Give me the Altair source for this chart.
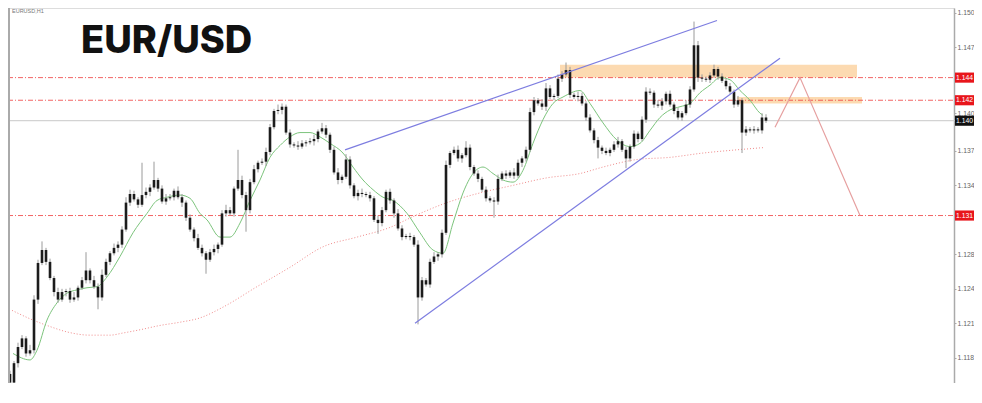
import altair as alt
import pandas as pd

# ---------------- data ----------------
FIRST_OPEN = 1.1168
CLOSE = [
    1.1160, 1.1178, 1.1193, 1.1201, 1.1187, 1.1190, 1.1237, 1.1271, 1.1283, 1.1272,
    1.1257, 1.1244, 1.1237, 1.1244, 1.1245, 1.1237, 1.1239, 1.1248, 1.1255, 1.1264,
    1.1255, 1.1249, 1.1239, 1.1260, 1.1272, 1.1280, 1.1285, 1.1288, 1.1302, 1.1327,
    1.1335, 1.1330, 1.1325, 1.1334, 1.1337, 1.1341, 1.1348, 1.1340, 1.1328, 1.1331,
    1.1332, 1.1338, 1.1332, 1.1327, 1.1313, 1.1302, 1.1294, 1.1285, 1.1280, 1.1274,
    1.1281, 1.1284, 1.1288, 1.1317, 1.1320, 1.1317, 1.1340, 1.1348, 1.1334, 1.1320,
    1.1346, 1.1358, 1.1364, 1.1365, 1.1374, 1.1397, 1.1412, 1.1413, 1.1416, 1.1392,
    1.1381, 1.1380, 1.1379, 1.1382, 1.1383, 1.1384, 1.1386, 1.1393, 1.1396, 1.1390,
    1.1376, 1.1355, 1.1348, 1.1351, 1.1367, 1.1343, 1.1333, 1.1336, 1.1335, 1.1334,
    1.1331, 1.1311, 1.1308, 1.1320, 1.1337, 1.1329, 1.1317, 1.1303, 1.1295, 1.1296,
    1.1295, 1.1288, 1.1239, 1.1255, 1.1251, 1.1272, 1.1277, 1.1279, 1.1299, 1.1362,
    1.1373, 1.1376, 1.1368, 1.1371, 1.1378, 1.1360, 1.1354, 1.1349, 1.1339, 1.1331,
    1.1329, 1.1328, 1.1349, 1.1354, 1.1352, 1.1355, 1.1352, 1.1364, 1.1368, 1.1376,
    1.1411, 1.1422, 1.1419, 1.1416, 1.1433, 1.1425, 1.1426, 1.1442, 1.1446, 1.1450,
    1.1427, 1.1425, 1.1426, 1.1419, 1.1406, 1.1394, 1.1385, 1.1378, 1.1375, 1.1373,
    1.1376, 1.1381, 1.1384, 1.1376, 1.1368, 1.1379, 1.1391, 1.1386, 1.1404, 1.1430,
    1.1429, 1.1418, 1.1417, 1.1421, 1.1428, 1.1418, 1.1412, 1.1406, 1.1410, 1.1418,
    1.1432, 1.1473, 1.1443, 1.1442, 1.1441, 1.1445, 1.1451, 1.1444, 1.1440, 1.1435,
    1.1430, 1.1418, 1.1422, 1.1392, 1.1395, 1.1394, 1.1395, 1.1394, 1.1406, 1.1403,
]
# wick lengths above / below the body, in pips
WICK_UP = [
    3, 2, 4, 3, 2, 5, 4, 3, 8, 2,   3, 2, 4, 3, 2, 3, 5, 2, 3, 17,
    2, 4, 3, 5, 3, 2, 4, 3, 3, 5,   4, 3, 2, 30, 4, 3, 17, 2, 3, 4,
    3, 2, 4, 3, 2, 3, 2, 4, 3, 2,   3, 4, 2, 3, 5, 3, 2, 28, 4, 3,
    3, 4, 2, 3, 4, 3, 2, 5, 3, 2,   3, 2, 4, 3, 2, 3, 4, 2, 5, 3,
    2, 3, 4, 2, 5, 3, 2, 3, 4, 2,   3, 2, 4, 3, 2, 3, 2, 4, 3, 2,
    3, 2, 4, 3, 2, 3, 4, 2, 3, 4,   2, 3, 4, 2, 6, 3, 2, 3, 2, 3,
    2, 3, 4, 2, 3, 2, 4, 3, 2, 3,   4, 3, 2, 4, 5, 3, 2, 4, 3, 7,
    3, 2, 4, 3, 2, 3, 2, 3, 2, 3,   2, 3, 4, 2, 3, 2, 3, 2, 3, 4,
    3, 2, 4, 3, 2, 3, 2, 3, 2, 4,   3, 22, 4, 3, 2, 3, 4, 2, 3, 2,
    3, 2, 4, 2, 3, 2, 3, 2, 4, 3,
]
WICK_DN = [
    8, 3, 4, 2, 3, 2, 3, 4, 2, 3,   2, 4, 3, 2, 4, 3, 2, 3, 2, 3,
    3, 2, 11, 3, 2, 3, 2, 4, 3, 2,  3, 2, 3, 2, 3, 4, 2, 3, 2, 3,
    2, 3, 2, 4, 3, 2, 3, 2, 3, 13,  2, 3, 4, 2, 3, 2, 3, 2, 3, 20,
    3, 2, 3, 2, 4, 3, 2, 3, 4, 2,   3, 2, 3, 2, 3, 2, 4, 3, 2, 3,
    3, 2, 4, 3, 2, 3, 2, 4, 3, 2,   3, 2, 10, 3, 2, 3, 4, 2, 3, 2,
    3, 2, 25, 3, 2, 3, 2, 4, 3, 2,  3, 2, 3, 4, 2, 3, 2, 3, 2, 3,
    2, 15, 3, 2, 3, 2, 3, 2, 4, 3,  2, 3, 2, 3, 4, 2, 3, 2, 3, 2,
    3, 2, 4, 2, 3, 2, 3, 10, 3, 2,  3, 2, 3, 2, 9, 3, 2, 3, 2, 3,
    2, 3, 2, 4, 3, 2, 3, 2, 3, 2,   3, 2, 4, 3, 2, 3, 2, 3, 2, 3,
    2, 3, 2, 19, 3, 2, 3, 2, 3, 2,
]

# slow moving average (red dotted), bar index / price
RED_MA_K = [0.5, 5.75, 10, 14.25, 20, 25, 28.25, 32.5, 37.5, 42.5, 47.5, 53.25, 61.75, 70,
            78.25, 86.75, 95, 100.75, 109.25, 117.5, 125.75, 134.25, 142.5, 148.25, 156.75,
            165, 173.25, 181.75, 188.25]
RED_MA_P = [1.1227, 1.1218, 1.1212, 1.1207, 1.1204, 1.1204, 1.1206, 1.1209, 1.1213, 1.1216,
            1.1220, 1.1230, 1.1249, 1.1267, 1.1286, 1.1295, 1.1304, 1.1314, 1.1327, 1.1336,
            1.1343, 1.1350, 1.1354, 1.1360, 1.1367, 1.1369, 1.1373, 1.1376, 1.1378]

# fast moving average (green)
GREEN_MA_K = [0.75, 5, 6.75, 9.25, 11.75, 14.25, 16.75, 19.25, 21.75, 24.25, 27.5, 30.75,
              34.25, 36.75, 39.25, 42.5, 45, 47.5, 49.25, 52.5, 55, 57.5, 60, 62.5, 65, 67.5,
              70, 72.5, 75, 77.5, 80, 83.25, 85.75, 88.25, 90.75, 93.25, 95.75, 99.25, 102.5,
              105.75, 108.25, 110.75, 113.25, 115.75, 118.25, 120.75, 123.25, 125.75, 128.25,
              130.75, 133.25, 135.75, 138.25, 142.5, 145, 148.25, 151.75, 155, 157.5, 160,
              162.5, 165, 167.5, 170, 172.5, 175, 177.5, 180, 182.5, 185, 187.5, 188.25]
GREEN_MA_P = [1.1187, 1.1181, 1.1190, 1.1218, 1.1234, 1.1243, 1.1246, 1.1248, 1.1249, 1.1258,
              1.1277, 1.1299, 1.1317, 1.1329, 1.1332, 1.1334, 1.1331, 1.1317, 1.1311, 1.1295,
              1.1295, 1.1308, 1.1329, 1.1348, 1.1369, 1.1380, 1.1388, 1.1392, 1.1392, 1.1388,
              1.1382, 1.1373, 1.1360, 1.1348, 1.1339, 1.1332, 1.1329, 1.1317, 1.1299, 1.1283,
              1.1280, 1.1308, 1.1336, 1.1354, 1.1360, 1.1354, 1.1348, 1.1346, 1.1357, 1.1382,
              1.1404, 1.1419, 1.1425, 1.1431, 1.1419, 1.1401, 1.1385, 1.1379, 1.1382, 1.1394,
              1.1406, 1.1413, 1.1416, 1.1419, 1.1429, 1.1436, 1.1443, 1.1441, 1.1431, 1.1422,
              1.1410, 1.1408]

# drawn objects
TREND_K1 = [83.75, 101.25]
TREND_P1 = [1.1376, 1.1215]
TREND_K2 = [176.75, 192.5]
TREND_P2 = [1.1496, 1.1461]

PROJ_K = [191.25, 197.5, 212.5]
PROJ_P = [1.1397, 1.1443, 1.1315]

ZONE_K0 = [137.5, 181.75]
ZONE_K1 = [211.75, 213.0]
ZONE_TOP = [1.1455, 1.1425]
ZONE_BOT = [1.1443, 1.1419]

LEVELS = [1.1443, 1.1422, 1.1315]
LEVEL_LABELS = ["1.144", "1.142", "1.131"]
CURRENT = 1.1403
CURRENT_LABEL = "1.140"

# visible price-scale labels (those under the coloured boxes are not shown)
TICK_VALUES = [1.1503, 1.1471, 1.1410, 1.1375, 1.1343, 1.1279, 1.1247, 1.1215, 1.1183, 1.1151]
TICK_LABELS = ["1.150", "1.147", "1.140", "1.137", "1.134", "1.128", "1.124", "1.121",
               "1.118", "1.115"]

TITLE = "EUR/USD"
SYMBOL = "EURUSD,H1"

# ---------------- tables ----------------
opens = [FIRST_OPEN] + CLOSE[:-1]
candles = pd.DataFrame({
    "k": list(range(len(CLOSE))),
    "open": opens,
    "close": CLOSE,
    "high": [max(o, c) + u / 10000 for o, c, u in zip(opens, CLOSE, WICK_UP)],
    "low": [min(o, c) - d / 10000 for o, c, d in zip(opens, CLOSE, WICK_DN)],
})
red_ma = pd.DataFrame({"k": RED_MA_K, "p": RED_MA_P})
green_ma = pd.DataFrame({"k": GREEN_MA_K, "p": GREEN_MA_P})
trends = pd.DataFrame({"k1": TREND_K1, "p1": TREND_P1, "k2": TREND_K2, "p2": TREND_P2})
proj = pd.DataFrame({"k": PROJ_K, "p": PROJ_P})
zones = pd.DataFrame({"k0": ZONE_K0, "k1": ZONE_K1, "top": ZONE_TOP, "bot": ZONE_BOT})
levels = pd.DataFrame({"p": LEVELS, "lab": LEVEL_LABELS})
current = pd.DataFrame({"p": [CURRENT], "lab": [CURRENT_LABEL]})

W, H = 946, 375
XDOM = [-0.5, 236.0]
YDOM = [1.11596, 1.15076]

xs = alt.Scale(domain=XDOM, nice=False, zero=False)
ys = alt.Scale(domain=YDOM, nice=False, zero=False)

label_expr = ("[" + ",".join("'%s'" % t for t in TICK_LABELS) + "][indexof(["
              + ",".join(repr(v) for v in TICK_VALUES) + "], datum.value)]")
yaxis = alt.Axis(orient="right", values=TICK_VALUES, labelExpr=label_expr, title=None,
                 grid=False, tickSize=2, tickColor="#aaaaaa", domainColor="#aaaaaa",
                 domainWidth=1.5, labelFontSize=6.8, labelColor="#666666",
                 labelFont="Liberation Sans", labelPadding=1, labelBaseline="middle")


def X(f):
    return alt.X(f, type="quantitative", scale=xs, axis=None)


def Y(f):
    return alt.Y(f, type="quantitative", scale=ys, axis=yaxis)


zone_layer = alt.Chart(zones).mark_rect(color="#fcd6a8", opacity=0.9).encode(
    x=X("k0"), x2=alt.X2("k1"), y=Y("top"), y2=alt.Y2("bot"))

level_layer = alt.Chart(levels).mark_rule(color="#f04848", strokeWidth=1,
                                          strokeDash=[5, 2, 1, 2], opacity=0.85).encode(
    y=Y("p"), x=alt.value(0), x2=alt.value(W + 1))

current_layer = alt.Chart(current).mark_rule(color="#c8c8c8", strokeWidth=1).encode(
    y=Y("p"), x=alt.value(0), x2=alt.value(W + 1))

red_ma_layer = alt.Chart(red_ma).mark_line(color="#f08a8a", strokeWidth=1,
                                           strokeDash=[1, 2], interpolate="monotone").encode(
    x=X("k"), y=Y("p"))

green_ma_layer = alt.Chart(green_ma).mark_line(color="#7cc47c", strokeWidth=1,
                                               interpolate="monotone").encode(
    x=X("k"), y=Y("p"))

wick_layer = alt.Chart(candles).mark_rule(color="#9a9a9a", strokeWidth=1).encode(
    x=X("k"), y=Y("low"), y2=alt.Y2("high"))

body_layer = alt.Chart(candles).mark_rule(color="#1c1c1c", strokeWidth=2.6).encode(
    x=X("k"), y=Y("open"), y2=alt.Y2("close"))

trend_layer = alt.Chart(trends).mark_rule(color="#7d7de0", strokeWidth=1.2).encode(
    x=X("k1"), y=Y("p1"), x2=alt.X2("k2"), y2=alt.Y2("p2"))

proj_layer = alt.Chart(proj).mark_line(color="#e6a0a0", strokeWidth=1.2).encode(
    x=X("k"), y=Y("p"))

box_levels = alt.Chart(levels).transform_calculate(
    y0="datum.p - 0.00047", y1="datum.p + 0.00047"
).mark_rect(color="#e8151b").encode(
    y=Y("y0"), y2=alt.Y2("y1"), x=alt.value(W + 1), x2=alt.value(W + 20))

box_levels_txt = alt.Chart(levels).mark_text(color="white", fontSize=6.8, align="left",
                                             baseline="middle", font="Liberation Sans").encode(
    y=Y("p"), x=alt.value(W + 2), text="lab:N")

box_cur = alt.Chart(current).transform_calculate(
    y0="datum.p - 0.00047", y1="datum.p + 0.00047"
).mark_rect(color="#111111").encode(
    y=Y("y0"), y2=alt.Y2("y1"), x=alt.value(W + 1), x2=alt.value(W + 20))

box_cur_txt = alt.Chart(current).mark_text(color="white", fontSize=6.8, align="left",
                                           baseline="middle", font="Liberation Sans").encode(
    y=Y("p"), x=alt.value(W + 2), text="lab:N")

title_layer = alt.Chart(pd.DataFrame({"t": [TITLE]})).mark_text(
    align="left", baseline="alphabetic", font="Inter", fontWeight=800, fontSize=38,
    color="#111111").encode(x=alt.value(73), y=alt.value(45), text="t:N")

symbol_layer = alt.Chart(pd.DataFrame({"t": [SYMBOL]})).mark_text(
    align="left", baseline="top", font="Liberation Sans", fontSize=5.5,
    color="#777777").encode(x=alt.value(4), y=alt.value(1), text="t:N")

left_border = alt.Chart(pd.DataFrame({"t": [0]})).mark_rule(color="#aaaaaa", strokeWidth=2).encode(
    x=alt.value(1), y=alt.value(0), y2=alt.value(H))

chart = alt.layer(
    zone_layer, level_layer, current_layer, red_ma_layer, green_ma_layer,
    wick_layer, body_layer, trend_layer, proj_layer,
    box_levels, box_levels_txt, box_cur, box_cur_txt,
    title_layer, symbol_layer, left_border,
).properties(
    width=W, height=H,
    autosize=alt.AutoSizeParams(type="none"),
    padding={"left": 0, "top": 0, "right": 20, "bottom": 0},
).configure_view(stroke=None).configure(background="white")

chart.save("out.html", embed_options={"renderer": "svg", "actions": False})
